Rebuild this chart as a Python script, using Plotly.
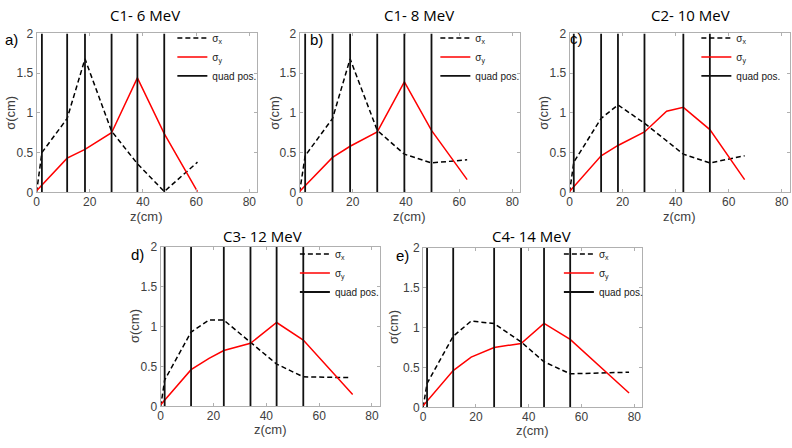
import plotly.graph_objects as go

W, H = 792, 448

titles = ["C1- 6 MeV", "C1- 8 MeV", "C2- 10 MeV", "C3- 12 MeV", "C4- 14 MeV"]
panel_tags = ["a)", "b)", "c)", "d)", "e)"]
x_title = "z(cm)"
y_title = "σ(cm)"

# panel a
quads_a = [2.0, 11.5, 18.2, 28.2, 37.9, 48.0]
zx_a = [0, 2.0, 11.5, 18.2, 28.2, 37.9, 48.0, 60.5]
sx_a = [0, 0.50, 0.93, 1.68, 0.77, 0.36, 0.01, 0.38]
zy_a = [0, 11.5, 18.2, 28.2, 37.9, 48.0, 60.5]
sy_a = [0.02, 0.43, 0.54, 0.75, 1.44, 0.74, 0.01]

# panel b
quads_b = [2.1, 12.4, 19.0, 29.2, 39.4, 49.6]
zx_b = [0, 2.1, 12.4, 19.0, 29.2, 39.4, 49.6, 63.0]
sx_b = [0, 0.46, 0.93, 1.68, 0.78, 0.48, 0.37, 0.41]
zy_b = [0, 12.4, 19.0, 29.2, 39.4, 49.6, 63.0]
sy_b = [0.01, 0.44, 0.58, 0.76, 1.39, 0.78, 0.16]

# panel c
quads_c = [1.6, 11.9, 18.25, 28.25, 42.9, 52.9]
zx_c = [0, 1.6, 11.9, 18.25, 28.25, 42.9, 52.9, 66.0]
sx_c = [0, 0.38, 0.93, 1.10, 0.87, 0.48, 0.37, 0.46]
zy_c = [0, 11.9, 18.25, 28.25, 36.6, 42.9, 52.9, 66.0]
sy_c = [0.01, 0.46, 0.59, 0.76, 1.02, 1.07, 0.79, 0.16]

# panel d
quads_d = [1.5, 11.5, 23.9, 34.0, 43.9, 54.0]
zx_d = [0, 1.5, 11.5, 18.3, 23.9, 34.0, 43.9, 54.0, 71.4]
sx_d = [0, 0.33, 0.93, 1.08, 1.08, 0.80, 0.53, 0.37, 0.36]
zy_d = [0, 11.5, 18.3, 23.9, 34.0, 43.9, 54.0, 72.7]
sy_d = [0.02, 0.46, 0.60, 0.70, 0.79, 1.05, 0.83, 0.15]

# panel e
quads_e = [1.5, 11.4, 26.9, 37.1, 45.8, 55.7]
zx_e = [0, 1.5, 11.4, 18.2, 26.9, 37.1, 45.8, 55.7, 78.0]
sx_e = [0, 0.30, 0.89, 1.08, 1.05, 0.82, 0.57, 0.42, 0.44]
zy_e = [0, 11.4, 18.2, 26.9, 37.1, 45.8, 55.7, 78.0]
sy_e = [0.02, 0.46, 0.63, 0.75, 0.80, 1.05, 0.85, 0.18]

x_ticks = [0, 20, 40, 60, 80]
y_ticks = [0, 0.5, 1, 1.5, 2]
y_tick_text = ["0", "0.5", "1", "1.5", "2"]

panels = [
    (quads_a, zx_a, sx_a, zy_a, sy_a),
    (quads_b, zx_b, sx_b, zy_b, sy_b),
    (quads_c, zx_c, sx_c, zy_c, sy_c),
    (quads_d, zx_d, sx_d, zy_d, sy_d),
    (quads_e, zx_e, sx_e, zy_e, sy_e),
]

# layout geometry (pixels)
boxes = [  # left, right, top, bottom
    (33.7, 255.3, 27.3, 191.3),
    (297.7, 519.3, 27.3, 191.3),
    (568.7, 789.7, 27.3, 191.3),
    (158.3, 378.3, 247.3, 412.3),
    (421.7, 641.7, 248.3, 413.3),
]
title_pos = [(143, 8), (418, 8), (690, 8), (260, 236), (531, 236)]
tag_pos = [(8.5, 34), (315, 34), (576, 33), (135, 255), (401, 257)]
legend_pos = [(170, 17), (434, 17), (696, 17), (293, 240), (558, 240)]
xtitle_y = [216, 216, 216, 436, 437]
ytitle_x = [8, 273, 543, 132, 392]

fig = go.Figure()
layout = dict(
    width=W, height=H, margin=dict(l=0, r=0, t=0, b=0),
    paper_bgcolor="white", plot_bgcolor="white",
    font=dict(family="Liberation Sans, Arial, sans-serif", color="#404040"),
    annotations=[],
)

axcol = "#b0b0b0"
for i, (quads, zx, sx, zy, sy) in enumerate(panels):
    n = "" if i == 0 else str(i + 1)
    leg = "legend" + n
    xa, ya = "x" + n, "y" + n
    qx, qy = [], []
    for q in quads:
        qx += [q, q, None]
        qy += [y_ticks[0], y_ticks[-1], None]
    fig.add_trace(go.Scatter(x=zx, y=sx, mode="lines", name="σ<sub>x</sub>",
                             line=dict(color="black", width=1.5, dash="5px,3px"),
                             xaxis=xa, yaxis=ya, legend=leg, legendrank=1))
    fig.add_trace(go.Scatter(x=zy, y=sy, mode="lines", name="σ<sub>y</sub>",
                             line=dict(color="#ff0000", width=1.5),
                             xaxis=xa, yaxis=ya, legend=leg, legendrank=2))
    fig.add_trace(go.Scatter(x=qx, y=qy, mode="lines", name="quad pos.",
                             line=dict(color="#111111", width=1.8),
                             xaxis=xa, yaxis=ya, legend=leg, legendrank=3))
    l, r, t, b = boxes[i]
    common = dict(showline=True, mirror="ticks", linecolor=axcol, linewidth=1,
                  ticks="inside", ticklen=3, tickcolor=axcol, showgrid=False,
                  zeroline=False, tickfont=dict(size=12, color="#404040"))
    layout["xaxis" + n] = dict(domain=[l / W, r / W], range=[0, 83], anchor=ya,
                               tickvals=x_ticks, ticklabelstandoff=-2, **common)
    layout["yaxis" + n] = dict(domain=[1 - b / H, 1 - t / H], range=[0, 2], anchor=xa,
                               tickvals=y_ticks, ticktext=y_tick_text, **common)
    lx, ly = legend_pos[i]
    layout[leg] = dict(x=lx / W, y=1 - ly / H, xanchor="left", yanchor="top",
                       xref="paper", yref="paper",
                       bgcolor="rgba(0,0,0,0)", borderwidth=0,
                       font=dict(size=10, color="#202020"))
    tx, ty = title_pos[i]
    layout["annotations"].append(dict(text=titles[i], x=tx / W, y=1 - ty / H,
                                      xref="paper", yref="paper", showarrow=False,
                                      xanchor="center", yanchor="middle",
                                      font=dict(family="Open Sans, sans-serif", size=15, color="black")))
    gx, gy = tag_pos[i]
    layout["annotations"].append(dict(text=panel_tags[i], x=gx / W, y=1 - gy / H,
                                      xref="paper", yref="paper", showarrow=False,
                                      xanchor="center", yanchor="middle",
                                      font=dict(family="Liberation Sans, Arial", size=15, color="black")))
    layout["annotations"].append(dict(text=x_title, x=(l + r) / 2 / W, y=1 - xtitle_y[i] / H,
                                      xref="paper", yref="paper", showarrow=False,
                                      xanchor="center", yanchor="middle",
                                      font=dict(size=13, color="#404040")))
    layout["annotations"].append(dict(text=y_title, x=ytitle_x[i] / W, y=1 - (t + b) / 2 / H,
                                      xref="paper", yref="paper", showarrow=False, textangle=-90,
                                      xanchor="center", yanchor="middle",
                                      font=dict(size=13, color="#404040")))

fig.update_layout(**layout)
fig.write_html("out.html", config={"displayModeBar": False},
               post_script="document.body.style.margin='0px';")
